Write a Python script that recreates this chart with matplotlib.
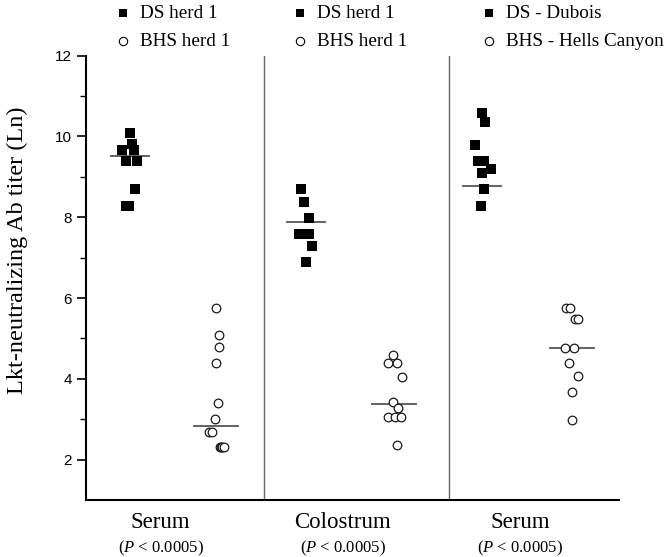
import matplotlib
matplotlib.use("Agg")
import matplotlib.pyplot as plt
from matplotlib.lines import Line2D
import matplotlib.transforms as mtrans

plt.rcParams["mathtext.fontset"] = "custom"
plt.rcParams["mathtext.rm"] = "Liberation Serif"
plt.rcParams["mathtext.it"] = "Liberation Serif:italic"

# ---------------- data ----------------
sample_types = ["Serum", "Colostrum", "Serum"]
p_labels = ["(P < 0.0005)", "(P < 0.0005)", "(P < 0.0005)"]
ds_labels = ["DS herd 1", "DS herd 1", "DS - Dubois"]
bhs_labels = ["BHS herd 1", "BHS herd 1", "BHS - Hells Canyon"]

ds_values = [
    [10.08, 9.81, 9.66, 9.66, 9.40, 9.40, 8.70, 8.28, 8.28],
    [8.69, 8.39, 7.99, 7.58, 7.58, 7.29, 6.90],
    [10.59, 10.35, 9.79, 9.39, 9.39, 9.19, 9.09, 8.69, 8.28],
]
bhs_values = [
    [5.75, 5.08, 4.78, 4.38, 3.39, 3.00, 2.68, 2.68, 2.30, 2.30, 2.30, 2.30],
    [4.59, 4.38, 4.38, 4.05, 3.43, 3.27, 3.06, 3.06, 3.06, 2.36],
    [5.76, 5.76, 5.47, 5.47, 4.76, 4.76, 4.38, 4.07, 3.68, 2.98],
]
ds_lines = [9.52, 7.88, 8.77]
bhs_lines = [2.82, 3.37, 4.76]

# horizontal scatter (jitter) of each point, in x-axis units
ds_jitter = [
    [0.0, 0.02, -0.09, 0.04, -0.04, 0.08, 0.06, -0.05, -0.015],
    [-0.06, -0.02, 0.03, -0.08, 0.035, 0.07, 0.0],
    [0.0, 0.035, -0.08, -0.04, 0.025, 0.10, 0.0, 0.025, -0.015],
]
bhs_jitter = [
    [0.0, 0.03, 0.03, 0.0, 0.02, -0.01, -0.085, -0.045, 0.04, 0.055, 0.07, 0.09],
    [-0.01, -0.065, 0.03, 0.09, -0.01, 0.04, -0.065, 0.01, 0.08, 0.03],
    [-0.07, -0.025, 0.035, 0.07, -0.08, 0.02, -0.03, 0.07, 0.0, 0.0],
]

ds_pos = [0.5, 2.5, 4.5]
bhs_pos = [1.48, 3.5, 5.52]
dividers = [2.02, 4.125]
label_x = [0.85, 2.92, 4.93]

# ---------------- figure ----------------
W, H = 669, 557
fig = plt.figure(figsize=(W / 100, H / 100), dpi=100)
ax = fig.add_axes([86 / W, 1 - 500 / H, (619 - 86) / W, (500 - 55.7) / H])

for i in range(3):
    xs = [ds_pos[i] + j for j in ds_jitter[i]]
    ax.plot(xs, ds_values[i], ls="none", marker="s", ms=7.7, mfc="black",
            mec="black", mew=0, zorder=3, clip_on=False)
    xb = [bhs_pos[i] + j for j in bhs_jitter[i]]
    ax.plot(xb, bhs_values[i], ls="none", marker="o", ms=6.2, mfc="white",
            mec="#1a1a1a", mew=0.9, zorder=3, clip_on=False)
    ax.plot([ds_pos[i] - 0.22, ds_pos[i] + 0.22], [ds_lines[i]] * 2,
            color="#555555", lw=1.3, zorder=2)
    ax.plot([bhs_pos[i] - 0.25, bhs_pos[i] + 0.25], [bhs_lines[i]] * 2,
            color="#555555", lw=1.3, zorder=2)

for d in dividers:
    ax.axvline(d, color="#666666", lw=1.0, zorder=1)

ax.set_xlim(0, (619 - 86) / 88)
ax.set_ylim(1, 12)
ax.set_yticks([2, 4, 6, 8, 10, 12])
ax.set_yticks([3, 5, 7, 9, 11], minor=True)
ax.set_xticks([])
for s in ["top", "right"]:
    ax.spines[s].set_visible(False)
for s in ["left", "bottom"]:
    ax.spines[s].set_linewidth(1.5)
    ax.spines[s].set_color("black")
ax.tick_params(axis="y", which="major", length=6.5, width=1.2, direction="out",
               pad=3.5, labelsize=11)
ax.tick_params(axis="y", which="minor", length=4, width=1.0, direction="out")
for lab in ax.get_yticklabels():
    lab.set_fontfamily("Liberation Sans")

ax.set_ylabel("Lkt-neutralizing Ab titer (Ln)", fontfamily="Liberation Serif",
              fontsize=17.5)
ax.yaxis.set_label_coords(28 / W, 1 - 250 / H, transform=fig.transFigure)

trans = mtrans.blended_transform_factory(ax.transData, fig.transFigure)
for i in range(3):
    ax.text(label_x[i], 1 - 522 / H, sample_types[i], transform=trans,
            ha="center", va="center", fontfamily="Liberation Serif", fontsize=16.5)
    rest = p_labels[i].split("P", 1)[1]
    ax.text(label_x[i], 1 - 548 / H, "(" + r"$\it{P}$" + rest, transform=trans,
            ha="center", va="center", fontfamily="Liberation Serif", fontsize=12)

# legends above each panel
leg_marker_x = [123, 300, 489]
for i in range(3):
    mx = leg_marker_x[i]
    fig.add_artist(Line2D([mx / W], [1 - 13 / H], transform=fig.transFigure,
                          marker="s", ms=6, mfc="black", mec="black", mew=0, ls="none"))
    fig.add_artist(Line2D([mx / W], [1 - 41 / H], transform=fig.transFigure,
                          marker="o", ms=6, mfc="white", mec="black", mew=0.8, ls="none"))
    fig.text((mx + 17) / W, 1 - 13 / H, ds_labels[i], ha="left", va="center",
             fontfamily="Liberation Serif", fontsize=13.8)
    fig.text((mx + 17) / W, 1 - 41 / H, bhs_labels[i], ha="left", va="center",
             fontfamily="Liberation Serif", fontsize=13.8)

fig.savefig("out.png", dpi=100)
